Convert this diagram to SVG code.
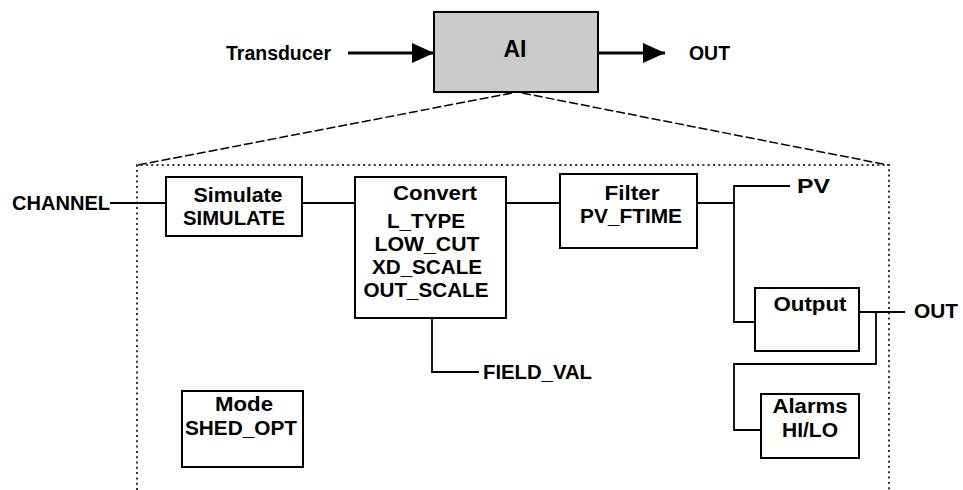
<svg xmlns="http://www.w3.org/2000/svg" width="963" height="490" viewBox="0 0 963 490">
<style>
.bg{fill:#ffffff}
.box{fill:#ffffff;stroke:#000;stroke-width:2}
.ai{fill:#cbcbcb;stroke:#000;stroke-width:2}
.t{font-family:"Liberation Sans",Arial,sans-serif;font-size:20px;font-weight:bold;fill:#000}
.c{text-anchor:middle}
.w{fill:none;stroke:#000;stroke-width:1.8}
.arr{fill:none;stroke:#000;stroke-width:3}
.dash{fill:none;stroke:#000;stroke-width:1.5;stroke-dasharray:9 3}
.dot{fill:none;stroke:#333;stroke-width:2;stroke-dasharray:2 3.3}
</style>
<defs>
<marker id="ah" markerWidth="22" markerHeight="20" refX="22" refY="10" orient="auto" markerUnits="userSpaceOnUse">
<path d="M0,0 L22,10 L0,20 Z" fill="#000"/>
</marker>
</defs>
<rect class="bg" x="0" y="0" width="963" height="490"/>

<g id="expansion">
<path class="dash" d="M512,93 L138,165"/>
<path class="dash" d="M522,93 L888,165"/>
<path class="dot" d="M137,490 L137,165 L889,165 L889,490"/>
</g>

<g id="connectors">
<path class="arr" d="M348,53 L434,53" marker-end="url(#ah)"/>
<path class="arr" d="M598,53 L665,53" marker-end="url(#ah)"/>
<path class="w" d="M110,203 L166,203"/>
<path class="w" d="M302,203 L355,203"/>
<path class="w" d="M506,203 L560,203"/>
<path class="w" d="M697,203 L734,203"/>
<path class="w" d="M790,186 L734,186 L734,322 L755,322"/>
<path class="w" d="M859,312 L905,312"/>
<path class="w" d="M876,312 L876,364 L734,364 L734,430 L761,430"/>
<path class="w" d="M432,318 L432,372 L479,372"/>
</g>

<g id="labels">
<text class="t" x="226" y="60" textLength="105" lengthAdjust="spacingAndGlyphs">Transducer</text>
<text class="t" x="689" y="60" textLength="41" lengthAdjust="spacingAndGlyphs">OUT</text>
<text class="t" x="12" y="210" textLength="98" lengthAdjust="spacingAndGlyphs">CHANNEL</text>
<text class="t" x="797" y="193" textLength="33" lengthAdjust="spacingAndGlyphs">PV</text>
<text class="t" x="914" y="318" textLength="44" lengthAdjust="spacingAndGlyphs">OUT</text>
<text class="t" x="483" y="379" textLength="109" lengthAdjust="spacingAndGlyphs">FIELD_VAL</text>
</g>

<g id="ai">
<rect class="ai" x="434" y="12" width="164" height="80"/>
<text x="515" y="57" text-anchor="middle" font-family="'Liberation Sans',Arial,sans-serif" font-size="24" font-weight="bold" fill="#000" textLength="23" lengthAdjust="spacingAndGlyphs">AI</text>
</g>

<g id="simulate">
<rect class="box" x="166" y="177" width="136" height="59"/>
<text class="t c" x="238" y="202" textLength="89" lengthAdjust="spacingAndGlyphs">Simulate</text>
<text class="t c" x="234" y="225" textLength="102" lengthAdjust="spacingAndGlyphs">SIMULATE</text>
</g>

<g id="convert">
<rect class="box" x="355" y="177" width="151" height="141"/>
<text class="t c" x="435" y="200" textLength="84" lengthAdjust="spacingAndGlyphs">Convert</text>
<text class="t c" x="426" y="228" textLength="78" lengthAdjust="spacingAndGlyphs">L_TYPE</text>
<text class="t c" x="427" y="251" textLength="105" lengthAdjust="spacingAndGlyphs">LOW_CUT</text>
<text class="t c" x="427" y="274" textLength="110" lengthAdjust="spacingAndGlyphs">XD_SCALE</text>
<text class="t c" x="426" y="297" textLength="125" lengthAdjust="spacingAndGlyphs">OUT_SCALE</text>
</g>

<g id="filter">
<rect class="box" x="560" y="174" width="137" height="74"/>
<text class="t c" x="632" y="200" textLength="55" lengthAdjust="spacingAndGlyphs">Filter</text>
<text class="t c" x="631" y="223" textLength="102" lengthAdjust="spacingAndGlyphs">PV_FTIME</text>
</g>

<g id="output">
<rect class="box" x="755" y="288" width="104" height="63"/>
<text class="t c" x="810" y="311" textLength="73" lengthAdjust="spacingAndGlyphs">Output</text>
</g>

<g id="alarms">
<rect class="box" x="761" y="394" width="98" height="64"/>
<text class="t c" x="810" y="413" textLength="75" lengthAdjust="spacingAndGlyphs">Alarms</text>
<text class="t c" x="810" y="437" textLength="56" lengthAdjust="spacingAndGlyphs">HI/LO</text>
</g>

<g id="mode">
<rect class="box" x="182" y="391" width="121" height="76"/>
<text class="t c" x="244" y="411" textLength="58" lengthAdjust="spacingAndGlyphs">Mode</text>
<text class="t c" x="241" y="435" textLength="112" lengthAdjust="spacingAndGlyphs">SHED_OPT</text>
</g>
</svg>
